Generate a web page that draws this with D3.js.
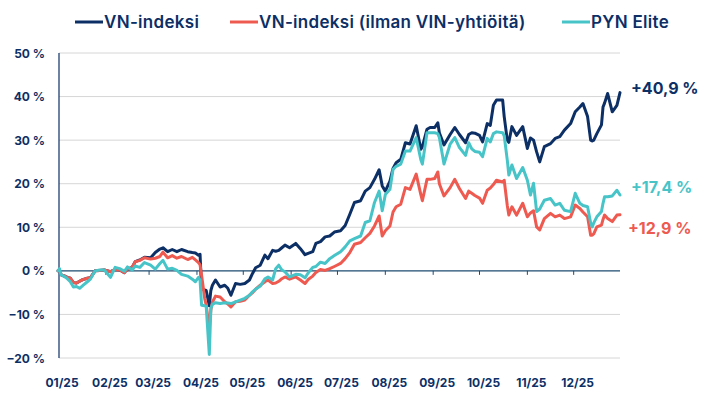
<!DOCTYPE html>
<html>
<head>
<meta charset="utf-8">
<script src="https://cdn.jsdelivr.net/npm/d3@7"></script>
<style>
  body { margin: 0; background: #fff; }
  svg { font-family: Inter, "Open Sans", sans-serif; }
</style>
</head>
<body>
<svg id="chart" width="716" height="399"></svg>
<script>
// dates (approx. trading days)
var dates = ["2025-01-01","2025-01-02","2025-01-03","2025-01-06","2025-01-07","2025-01-09","2025-01-11","2025-01-13","2025-01-15","2025-01-17",
  "2025-01-20","2025-01-22","2025-01-25","2025-01-28","2025-01-31","2025-02-04","2025-02-07","2025-02-10","2025-02-13","2025-02-15",
  "2025-02-18","2025-02-20","2025-02-23","2025-02-26","2025-03-02","2025-03-05","2025-03-08","2025-03-10","2025-03-13","2025-03-16",
  "2025-03-19","2025-03-22","2025-03-26","2025-03-29","2025-03-31","2025-04-02","2025-04-03","2025-04-04","2025-04-06","2025-04-07",
  "2025-04-09","2025-04-10","2025-04-11","2025-04-13","2025-04-16","2025-04-19","2025-04-21","2025-04-23","2025-04-26","2025-04-29",
  "2025-05-02","2025-05-05","2025-05-07","2025-05-09","2025-05-12","2025-05-15","2025-05-17","2025-05-20","2025-05-22","2025-05-24",
  "2025-05-26","2025-05-28","2025-05-31","2025-06-04","2025-06-07","2025-06-10","2025-06-12","2025-06-15","2025-06-17","2025-06-20",
  "2025-06-23","2025-06-26","2025-06-29","2025-07-03","2025-07-06","2025-07-09","2025-07-12","2025-07-16","2025-07-19","2025-07-22",
  "2025-07-25","2025-07-28","2025-07-30","2025-08-01","2025-08-04","2025-08-06","2025-08-08","2025-08-11","2025-08-14","2025-08-17",
  "2025-08-21","2025-08-24","2025-08-25","2025-08-28","2025-08-30","2025-09-02","2025-09-04","2025-09-05","2025-09-08","2025-09-12",
  "2025-09-15","2025-09-18","2025-09-22","2025-09-24","2025-09-26","2025-09-28","2025-10-01","2025-10-03","2025-10-06","2025-10-08",
  "2025-10-10","2025-10-12","2025-10-16","2025-10-17","2025-10-19","2025-10-20","2025-10-22","2025-10-25","2025-10-29","2025-11-01",
  "2025-11-03","2025-11-05","2025-11-07","2025-11-09","2025-11-12","2025-11-16","2025-11-19","2025-11-22","2025-11-25","2025-11-29",
  "2025-12-02","2025-12-05","2025-12-07","2025-12-10","2025-12-12","2025-12-13","2025-12-14","2025-12-16","2025-12-19","2025-12-20",
  "2025-12-21","2025-12-23","2025-12-26","2025-12-29","2025-12-31"];

// % change, VN-indeksi
var vnIndex = [0,0,-0.9,-1.3,-1.5,-1.7,-2.7,-2.8,-2.4,-2.0,
  -1.7,-1.6,0,0.1,0.2,-0.2,0.3,0.2,-0.4,0.4,
  0.8,2.1,2.5,3.1,3.0,4.2,5.0,5.3,4.4,4.9,
  4.4,4.9,4.4,4.2,4.1,3.6,3.8,-4.1,-4.4,-4.5,
  -8.0,-4.5,-3.3,-2.1,-3.7,-3.3,-4.0,-5.6,-2.9,-3.1,
  -2.9,-2.1,-0.6,0.7,1.3,3.6,2.8,4.7,4.5,4.7,
  5.3,5.9,5.3,6.3,5.1,3.7,4.0,4.4,6.3,6.7,
  7.8,8.0,8.9,9.2,10.4,13.0,15.7,16.1,18.3,19.1,
  21.0,23.2,19.5,18.3,20.6,23.5,24.8,25.6,29.4,29.1,
  33.3,27.9,28.5,32.5,32.9,32.9,34.0,31.7,28.9,31.3,
  32.9,31.3,29.4,31.3,31.7,31.6,31.1,29.6,33.8,33.4,
  38.0,39.2,39.2,35.4,30.0,29.5,33.1,31.1,33.1,28.1,
  30.5,30.0,27.3,25.0,28.5,29.2,30.4,30.8,32.3,33.8,
  36.5,37.6,38.4,35.4,30.0,29.8,30.0,31.5,33.5,37.6,
  38.5,40.7,36.5,38.0,40.9];

// % change, VN-indeksi (ilman VIN-yhtiöitä)
var vnExVin = [0,0,-0.9,-1.3,-1.5,-1.7,-2.7,-2.8,-2.4,-2.0,
  -1.7,-1.6,0,0.1,0.2,-0.2,0.3,0.2,-0.4,0.4,
  0.8,2.1,2.4,3.0,2.7,2.9,3.3,4.3,3.0,3.5,
  2.9,3.3,2.6,3.1,2.5,1.9,1.4,-1.0,-6.3,-7.9,
  -13.2,-9.0,-7.2,-5.8,-6.0,-7.1,-7.6,-8.3,-7.1,-7.0,
  -6.7,-5.6,-5.0,-4.2,-3.3,-2.5,-2.1,-2.9,-2.8,-2.4,
  -1.8,-1.4,-1.9,-1.4,-2.1,-2.9,-2.0,-1.2,-0.4,0.3,
  0.1,0.5,1.0,1.7,2.8,4.2,6.1,6.5,7.6,8.6,
  10.3,12.6,8.0,9.2,10.3,13.5,14.7,15.3,19.1,18.7,
  22.2,17.5,16.1,21.0,21.0,21.2,22.7,20.0,17.2,19.1,
  21.0,18.9,16.6,18.3,17.8,17.3,16.7,15.5,18.5,19.0,
  19.8,20.8,20.4,20.8,15.0,12.8,14.7,12.8,15.5,12.4,
  13.3,13.8,10.1,9.4,12.0,13.2,12.4,12.8,12.0,12.4,
  15.1,14.3,13.5,12.4,8.2,8.2,8.5,10.1,10.5,11.8,
  12.8,12.0,11.3,12.8,12.9];

// % change, PYN Elite
var pynElite = [0,0.5,-0.9,-1.5,-1.8,-2.5,-3.7,-3.6,-4.0,-3.4,
  -2.5,-1.9,0,0.2,0.2,-1.5,0.8,0.5,-0.1,0.9,
  0.2,1.1,0.8,1.9,1.3,0.4,1.7,2.4,0.4,0.6,
  0.1,-0.8,-1.2,-1.9,-2.5,-1.5,-2.1,-7.9,-8.0,-8.2,
  -19.2,-8.6,-7.7,-7.3,-7.5,-7.3,-7.4,-7.5,-7.1,-6.7,
  -6.3,-5.6,-4.8,-4.2,-3.5,-1.8,-1.4,-2.1,0.5,1.3,
  0.2,-0.2,-1.4,-0.8,-0.9,-1.6,-0.5,0.8,1.0,2.0,
  1.7,2.8,3.5,4.4,5.5,6.9,7.4,8.0,11.1,11.5,
  15.7,18.3,13.8,17.5,18.7,23.3,24.0,24.5,27.5,27.5,
  30.6,25.5,24.5,31.7,31.7,31.7,31.5,30.6,24.5,29.1,
  30.6,28.3,26.5,29.4,28.0,27.4,27.2,26.2,30.4,29.6,
  31.5,31.9,31.7,31.0,25.4,22.0,24.3,21.2,23.7,20.8,
  17.4,20.1,13.6,14.2,16.2,16.6,15.1,15.5,13.9,13.6,
  17.8,15.5,15.0,14.7,11.0,10.1,11.0,12.4,13.6,15.5,
  17.0,17.0,17.2,18.5,17.4];

var yTicks = [50, 40, 30, 20, 10, 0, -10, -20];
var monthLabels = ["01/25","02/25","03/25","04/25","05/25","06/25","07/25","08/25","09/25","10/25","11/25","12/25"];
var legendNames = ["VN-indeksi", "VN-indeksi (ilman VIN-yhtiöitä)", "PYN Elite"];
var endLabels = ["+40,9 %", "+12,9 %", "+17,4 %"];

var navy = "#0c2f66", red = "#ee5a50", teal = "#47c4c8", zeroCol = "#1d4b70";

var svg = d3.select("#chart"),
    width = +svg.attr("width"),
    height = +svg.attr("height");

var parse = d3.timeParse("%Y-%m-%d");
var x = d3.scaleTime()
  .domain([parse("2025-01-01"), parse("2025-12-31")])
  .range([58, 620]);
var y = d3.scaleLinear()
  .domain([-20, 50])
  .range([358, 53]);

// gridlines
svg.append("g")
  .selectAll("line")
  .data(yTicks.filter(function(d){ return d != 0 }))
  .enter()
  .append("line")
    .attr("x1", 59).attr("x2", 620)
    .attr("y1", function(d){ return y(d) })
    .attr("y2", function(d){ return y(d) })
    .attr("stroke", "#d6d6d6")
    .attr("stroke-width", 1)

// y labels
svg.append("g")
  .selectAll("text")
  .data(yTicks)
  .enter()
  .append("text")
    .attr("x", 45)
    .attr("y", function(d){ return y(d) })
    .attr("text-anchor", "end")
    .attr("dominant-baseline", "central")
    .style("font-size", "12px")
    .style("font-weight", 700)
    .style("fill", navy)
    .text(function(d){ return (d < 0 ? "\u2212" + (-d) : d) + " %" })

// zero line with small month ticks
svg.append("line")
  .attr("x1", 59).attr("x2", 620)
  .attr("y1", y(0)).attr("y2", y(0))
  .attr("stroke", zeroCol).attr("stroke-width", 1.2)

var months = d3.timeMonth.range(parse("2025-01-01"), parse("2025-12-31"));
svg.append("g")
  .selectAll("line")
  .data(months.slice(1))
  .enter()
  .append("line")
    .attr("x1", function(d){ return x(d) }).attr("x2", function(d){ return x(d) })
    .attr("y1", y(0)).attr("y2", y(0) + 4)
    .attr("stroke", zeroCol).attr("stroke-width", 1)

// left axis line
svg.append("line")
  .attr("x1", 59).attr("x2", 59)
  .attr("y1", y(50)).attr("y2", y(-20))
  .attr("stroke", navy).attr("stroke-width", 1.2)

// month labels
svg.append("g")
  .selectAll("text")
  .data(months)
  .enter()
  .append("text")
    .attr("x", function(d){ return x(d) + 4 })
    .attr("y", 382)
    .attr("text-anchor", "middle")
    .attr("dominant-baseline", "central")
    .style("font-size", "12px")
    .style("font-weight", 700)
    .style("fill", navy)
    .text(function(d, i){ return monthLabels[i] })

// lines
var series = [vnIndex, vnExVin, pynElite];
var colors = [navy, red, teal];
var line = d3.line()
  .x(function(d, i){ return x(parse(dates[i])) })
  .y(function(d){ return y(d) });

svg.append("g")
  .selectAll("path")
  .data(series)
  .enter()
  .append("path")
    .attr("d", function(d){ return line(d) })
    .attr("fill", "none")
    .attr("stroke", function(d, i){ return colors[i] })
    .attr("stroke-width", 3)
    .attr("stroke-linejoin", "round")
    .attr("stroke-linecap", "round")

// end labels
var endY = [88, 228, 187];
svg.append("g")
  .selectAll("text")
  .data(endLabels)
  .enter()
  .append("text")
    .attr("x", function(d, i){ return i == 1 ? 628 : 631 })
    .attr("y", function(d, i){ return endY[i] })
    .attr("dominant-baseline", "central")
    .style("font-size", "16px")
    .style("font-weight", 700)
    .style("fill", function(d, i){ return colors[i] })
    .text(function(d){ return d })

// legend
var legendX = [75, 230, 562];
var lg = svg.append("g")
  .selectAll("g")
  .data(legendNames)
  .enter()
  .append("g")
    .attr("transform", function(d, i){ return "translate(" + legendX[i] + ",22)" });
lg.append("line")
  .attr("x1", 0).attr("x2", 28)
  .attr("stroke", function(d, i){ return colors[i] })
  .attr("stroke-width", 3)
lg.append("text")
  .attr("x", 29)
  .attr("dominant-baseline", "central")
  .style("font-size", "17px")
  .style("font-weight", 600)
  .style("letter-spacing", "0.3px")
  .style("fill", navy)
  .text(function(d){ return d })
</script>
</body>
</html>
